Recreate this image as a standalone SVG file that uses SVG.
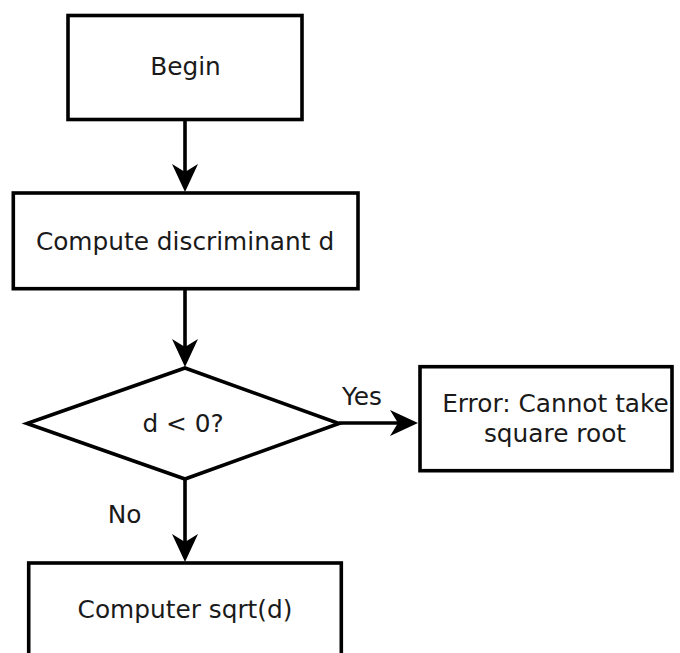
<svg xmlns="http://www.w3.org/2000/svg" width="680" height="653" viewBox="0 0 680 653">
  <style>
    .box { fill: #ffffff; stroke: #000000; stroke-width: 3.6; }
    .edge { fill: none; stroke: #000000; stroke-width: 3.6; }
    .lbl { font-family: "DejaVu Sans", "Liberation Sans", sans-serif; font-size: 24.8px; fill: #1a1a1a; text-anchor: middle; }
  </style>
  <defs>
    <marker id="arr" viewBox="0 0 28 28" markerWidth="28" markerHeight="28" refX="8" refY="14" orient="auto" markerUnits="userSpaceOnUse">
      <path d="M0,1 L28,14 L0,27 L8,14 Z" fill="#000000"/>
    </marker>
  </defs>
  <rect x="0" y="0" width="680" height="653" fill="#ffffff"/>

  <g id="connectors">
    <line class="edge" x1="185" y1="120" x2="185" y2="172" marker-end="url(#arr)"/>
    <line class="edge" x1="185" y1="289" x2="185" y2="347" marker-end="url(#arr)"/>
    <line class="edge" x1="339" y1="423" x2="398" y2="423" marker-end="url(#arr)"/>
    <line class="edge" x1="185" y1="479" x2="185" y2="542" marker-end="url(#arr)"/>
    <text class="lbl" x="362" y="405">Yes</text>
    <text class="lbl" x="124.5" y="522.5">No</text>
  </g>

  <g id="begin">
    <rect class="box" x="68" y="15.5" width="234" height="104"/>
    <text class="lbl" x="185.5" y="75">Begin</text>
  </g>

  <g id="compute">
    <rect class="box" x="13.3" y="193" width="344.7" height="95.7"/>
    <text class="lbl" x="185" y="249.5">Compute discriminant d</text>
  </g>

  <g id="decision">
    <polygon class="box" points="185,368 339,423.5 185,479 27,423.5"/>
    <text class="lbl" x="183" y="431.7">d &lt; 0?</text>
  </g>

  <g id="error">
    <rect class="box" x="420" y="366.7" width="252" height="104"/>
    <text class="lbl" x="555.5" y="411.7">Error: Cannot take</text>
    <text class="lbl" x="555" y="441.7">square root</text>
  </g>

  <g id="sqrt">
    <rect class="box" x="28.7" y="563" width="312.6" height="110"/>
    <text class="lbl" x="185" y="618">Computer sqrt(d)</text>
  </g>
</svg>
